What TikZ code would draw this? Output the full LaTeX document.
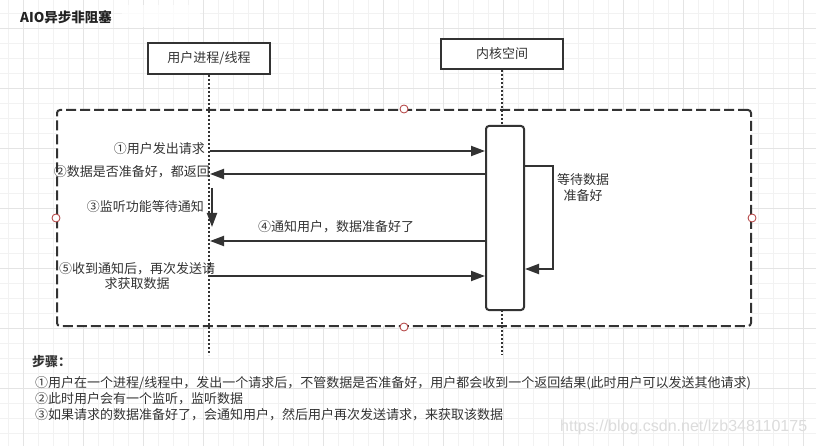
\documentclass[tikz,border=0pt]{standalone}
\usepackage{fontspec}
\setmainfont{Noto Sans CJK SC}
\newfontfamily\wmfont{Liberation Sans}
\usetikzlibrary{arrows.meta}
\definecolor{ink}{HTML}{333333}
\definecolor{titleink}{HTML}{222222}
\definecolor{wmgray}{HTML}{DCDCDC}
\definecolor{gridminor}{HTML}{F2F2F2}
\definecolor{gridmajor}{HTML}{E4E4E4}
\definecolor{portred}{HTML}{B03A3A}
\tikzset{
  gminor/.style={draw=gridminor, line width=0.8pt},
  gmajor/.style={draw=gridmajor, line width=0.9pt},
  lifebox/.style={draw=ink, line width=2pt, fill=white, text=ink, inner sep=0pt,
    font=\fontsize{13}{15}\selectfont},
  lifeline/.style={draw=ink, line width=2pt, dash pattern=on 2pt off 2pt},
  container/.style={draw=ink, line width=2pt, fill=white, dash pattern=on 10pt off 4pt,
    rounded corners=3pt, inner sep=0pt},
  port/.style={circle, draw=portred, fill=white, line width=0.8pt, minimum size=8pt, inner sep=0pt},
  activation/.style={draw=ink, line width=2pt, fill=white, rounded corners=3pt, inner sep=0pt},
  msg/.style={draw=ink, line width=2pt, -{Triangle[length=14pt,width=10pt]}},
  lbl/.style={text=ink, inner sep=0pt, font=\fontsize{13}{15}\selectfont},
  steptext/.style={text=ink, inner sep=0pt, anchor=west, font=\fontsize{13}{15}\selectfont},
}
\begin{document}
\begin{tikzpicture}[x=1pt,y=-1pt]
\useasboundingbox (0,0) rectangle (816,446);
\fill[white] (0,0) rectangle (816,446);
% grid
\foreach \x in {8,23,...,803} \draw[gminor] (\x,0) -- (\x,446);
\foreach \y in {13,28,...,433} \draw[gminor] (0,\y) -- (816,\y);
\foreach \x in {23,83,...,803} \draw[gmajor] (\x,0) -- (\x,446);
\foreach \y in {28,88,...,388} \draw[gmajor] (0,\y) -- (816,\y);
\fill[white, opacity=0.7] (122,5) rectangle (200,27);
% title
\node[anchor=west, inner sep=0pt, text=titleink, font=\fontsize{13.5}{15}\selectfont\bfseries] (title) at (20,17) {AIO异步非阻塞};
% frame
\node[container, minimum width=694pt, minimum height=216pt] (frame) at (404,218) {};
% lifeline heads
\node[lifebox, minimum width=122pt, minimum height=31pt] (user) at (209,58.5) {用户进程/线程};
\node[lifebox, minimum width=122pt, minimum height=30pt] (kernel) at (502,54) {内核空间};
\coordinate (userend) at (209,355);
\coordinate (kernelend) at (502,355);
\draw[lifeline] (user.south) -- (userend);
\draw[lifeline] (kernel.south) -- (kernelend);
% ports
\node[port] (pn) at (frame.north) {};
\node[port] (ps) at (frame.south) {};
\node[port] (pw) at (frame.west) {};
\node[port] (pe) at (frame.east) {};
% activation
\node[activation, minimum width=38pt, minimum height=184pt] (act) at (505,218) {};
% messages
\coordinate (u1) at (210,151);
\coordinate (u2) at (210,174);
\coordinate (u3a) at (212,188);
\coordinate (u3b) at (212,227);
\coordinate (u4) at (210,241);
\coordinate (u5) at (210,276);
\coordinate (loopa) at (553,166);
\coordinate (loopb) at (553,269);
\draw[msg] (u1) -- (act.west |- u1);
\draw[msg] (act.west |- u2) -- (u2);
\draw[msg] (u3a) -- (u3b);
\draw[msg] (act.west |- u4) -- (u4);
\draw[msg] (u5) -- (act.west |- u5);
\draw[msg] (act.east |- loopa) -- (loopa) -- (loopb) -- (act.east |- loopb);
% labels
\node[lbl, anchor=east] (l1) at (205,149) {①用户发出请求};
\node[lbl, anchor=east] (l2) at (210,172) {②数据是否准备好，都返回};
\node[lbl, anchor=east] (l3) at (204,207) {③监听功能等待通知};
\node[lbl] (l4) at (336,227) {④通知用户，数据准备好了};
\node[lbl, align=center, font=\fontsize{13}{14.5}\selectfont] (l5) at (137,276) {⑤收到通知后，再次发送请\\求获取数据};
\node[lbl, align=center, font=\fontsize{13}{16}\selectfont] (l6) at (583,188) {等待数据\\准备好};
% steps
\node[steptext, font=\fontsize{13}{15}\selectfont\bfseries] (s0) at (32,362) {步骤：};
\node[steptext] (s1) at (35,383) {①用户在一个进程/线程中，发出一个请求后，不管数据是否准备好，用户都会收到一个返回结果(此时用户可以发送其他请求)};
\node[steptext] (s2) at (35,399) {②此时用户会有一个监听，监听数据};
\node[steptext] (s3) at (35,415) {③如果请求的数据准备好了，会通知用户，然后用户再次发送请求，来获取该数据};
% watermark
\node[anchor=west, inner sep=0pt, text=wmgray, font=\wmfont\fontsize{16}{18}\selectfont] (wm) at (560,427) {https://blog.csdn.net/lzb348110175};
\end{tikzpicture}
\end{document}
